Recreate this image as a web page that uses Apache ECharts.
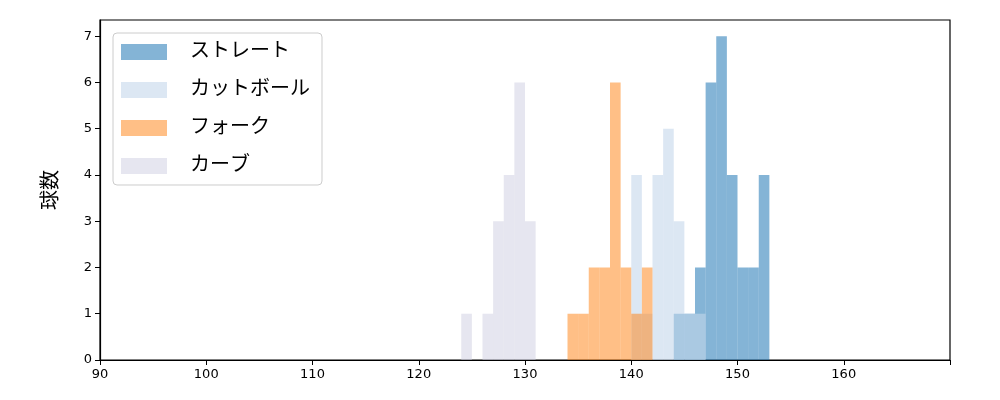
<!DOCTYPE html>
<html><head><meta charset="utf-8">
<script src="https://cdn.jsdelivr.net/npm/echarts@6/dist/echarts.min.js"></script>
<style>html,body{margin:0;padding:0;background:#fff}#c{width:1000px;height:400px}</style>
</head><body><div id="c"></div>
<script>
const seriesNames = ['ストレート', 'カットボール', 'フォーク', 'カーブ'];
const seriesColors = ['rgba(31,119,180,0.55)', 'rgba(197,215,235,0.6)', 'rgba(255,127,14,0.5)', 'rgba(205,205,225,0.5)'];
// bin start values (width 1) and counts
const straightStart = [144,145,146,147,148,149,150,151,152];
const straightCount = [1,1,2,6,7,4,2,2,4];
const cutterStart = [140,141,142,143,144,145,146];
const cutterCount = [4,1,4,5,3,1,1];
const forkStart = [134,135,136,137,138,139,140,141];
const forkCount = [1,1,2,2,6,2,1,2];
const curveStart = [124,125,126,127,128,129,130];
const curveCount = [1,0,1,3,4,6,3];
const binWidth = 1;
const xTicks = [90,100,110,120,130,140,150,160];
const yTicks = [0,1,2,3,4,5,6,7];

const sets = [[straightStart, straightCount],[cutterStart, cutterCount],[forkStart, forkCount],[curveStart, curveCount]];
const chart = echarts.init(document.getElementById('c'));
const font = "'DejaVu Sans', 'Noto Sans CJK JP', sans-serif";
chart.setOption({
  animation: false,
  textStyle: {fontFamily: font},
  grid: {left: 100, right: 50, top: 20, bottom: 40, show: true, borderColor: '#000', borderWidth: 1.2, backgroundColor: 'transparent'},
  legend: {
    orient: 'vertical', left: 113, top: 33, itemWidth: 46, itemHeight: 16, itemGap: 18,
    padding: [9, 12, 9, 8], borderColor: '#ccc', borderWidth: 1, borderRadius: 4, backgroundColor: '#fff',
    textStyle: {fontSize: 20, color: '#000', fontFamily: font, padding: [0,0,0,18]},
    data: seriesNames.map((n, i) => ({name: n, icon: 'rect', itemStyle: {color: seriesColors[i]}}))
  },
  xAxis: {
    type: 'value', min: 90, max: 170, interval: 10,
    axisLine: {show: true, onZero: false, lineStyle: {color: '#000', width: 1.2}},
    axisTick: {show: true, length: 5, lineStyle: {color: '#000'}},
    splitLine: {show: false},
    axisLabel: {color: '#000', fontSize: 13, formatter: v => xTicks.includes(v) ? String(v) : ''}
  },
  yAxis: {
    type: 'value', min: 0, max: 7.35, interval: 1, name: '球数', nameLocation: 'middle', nameGap: 38,
    nameTextStyle: {fontSize: 20, color: '#000'},
    axisLine: {show: true, lineStyle: {color: '#000', width: 1.2}},
    axisTick: {show: true, length: 5, lineStyle: {color: '#000'}},
    splitLine: {show: false},
    axisLabel: {color: '#000', fontSize: 13, showMaxLabel: false, formatter: v => yTicks.includes(v) ? String(v) : ''}
  },
  series: sets.map((s, i) => ({
    name: seriesNames[i], type: 'custom', z: 2 + i,
    itemStyle: {color: seriesColors[i]},
    data: s[0].map((x, j) => [x, x + binWidth, s[1][j]]),
    renderItem: (params, api) => {
      const p0 = api.coord([api.value(0), api.value(2)]);
      const p1 = api.coord([api.value(1), 0]);
      return {type: 'rect', shape: {x: p0[0], y: p0[1], width: p1[0] - p0[0], height: p1[1] - p0[1]},
        style: {fill: seriesColors[i]}};
    }
  }))
});
</script></body></html>
